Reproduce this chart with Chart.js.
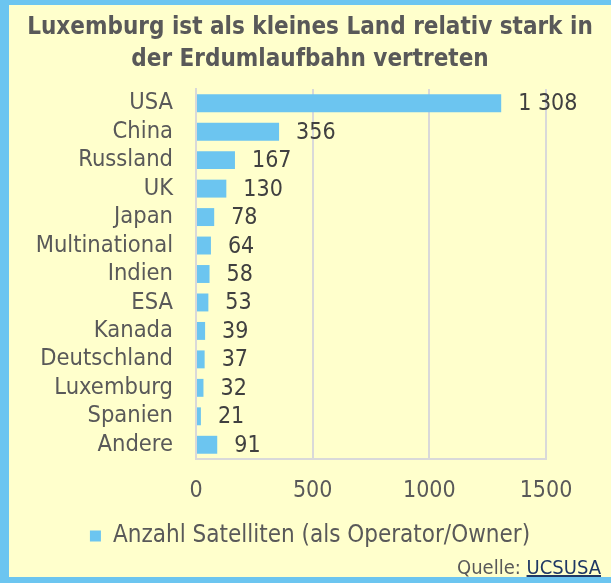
<!DOCTYPE html>
<html>
<head>
<meta charset="utf-8">
<script src="https://cdn.jsdelivr.net/npm/chart.js@4"></script>
<style>
  html, body { margin: 0; padding: 0; }
  #box {
    position: relative; width: 611px; height: 583px; box-sizing: border-box;
    background: #FFFFCC; border-top: 5px solid #6CC5F0; border-left: 9px solid #6CC5F0;
    border-bottom: 6px solid #6CC5F0; overflow: hidden;
    font-family: "DejaVu Sans Condensed", sans-serif;
  }
  #sat_chart { position: absolute; left: -9px; top: -5px; }
  #title {
    position: absolute; left: 0; right: 0; top: 5px; text-align: center;
    font-size: 24px; font-weight: bold; line-height: 32px; color: #595959;
  }
  #source {
    position: absolute; right: 10px; top: 550px; font-size: 20px; color: #595959;
  }
  #source span { color: #1F3864; text-decoration: underline; }
</style>
</head>
<body>
<div id="box">
  <canvas id="sat_chart" width="611" height="583"></canvas>
  <div id="title">Luxemburg ist als kleines Land relativ stark in<br>der Erdumlaufbahn vertreten</div>
  <div id="source">Quelle: <span>UCSUSA</span></div>
</div>
<script>
const countries = ['USA', 'China', 'Russland', 'UK', 'Japan', 'Multinational', 'Indien', 'ESA', 'Kanada', 'Deutschland', 'Luxemburg', 'Spanien', 'Andere'];
const satellites = [1308, 356, 167, 130, 78, 64, 58, 53, 39, 37, 32, 21, 91];
const xTicks = [0, 500, 1000, 1500];

const FONT = '"DejaVu Sans Condensed", sans-serif';
const blue = '#6CC5F0';
const grey = '#595959';

// value labels next to each bar, "1 308" style
const valueLabels = {
  id: 'valueLabels',
  afterDatasetsDraw(chart) {
    const ctx = chart.ctx;
    const meta = chart.getDatasetMeta(0);
    ctx.save();
    ctx.font = '23px ' + FONT;
    ctx.fillStyle = '#404040';
    ctx.textAlign = 'left';
    ctx.textBaseline = 'middle';
    meta.data.forEach((bar, i) => {
      let txt = satellites[i].toString().replace(/\B(?=(\d{3})+(?!\d))/g, ' ');
      ctx.fillText(txt, bar.x + 17, bar.y + 1);
    });
    ctx.restore();
  }
};

new Chart(document.getElementById('sat_chart'), {
  type: 'bar',
  data: {
    labels: countries,
    datasets: [{
      label: 'Anzahl Satelliten (als Operator/Owner)',
      data: satellites,
      backgroundColor: blue,
      borderWidth: 0,
      categoryPercentage: 1,
      barPercentage: 0.63
    }]
  },
  plugins: [valueLabels],
  options: {
    indexAxis: 'y',
    responsive: false,
    animation: false,
    layout: { padding: { left: 9, right: 0, top: 89, bottom: 25 } },
    scales: {
      x: {
        min: 0, max: 1500,
        afterFit: s => { s.height = 55; },
        afterBuildTicks: s => { s.ticks = xTicks.map(v => ({ value: v })); },
        grid: { color: '#D9D9D9', lineWidth: 2, drawTicks: false },
        border: { color: '#D9D9D9', width: 2 },
        ticks: { color: grey, font: { family: FONT, size: 23 }, padding: 18, callback: v => String(v) }
      },
      y: {
        afterFit: s => { s.width = 187; },
        grid: { display: false, drawTicks: false },
        border: { color: '#D9D9D9', width: 2 },
        ticks: { color: grey, font: { family: FONT, size: 23.5 }, padding: 23, autoSkip: false }
      },
      // empty right axis, only keeps room on the right of the plot
      spacer: {
        type: 'linear',
        position: 'right',
        afterFit: s => { s.width = 65; },
        grid: { display: false, drawTicks: false },
        border: { display: false },
        ticks: { display: false }
      }
    },
    plugins: {
      legend: {
        position: 'bottom',
        labels: { color: grey, boxWidth: 11, boxHeight: 11, font: { family: FONT, size: 24 }, padding: 10 }
      },
      tooltip: { enabled: false }
    }
  }
});
</script>
</body>
</html>
